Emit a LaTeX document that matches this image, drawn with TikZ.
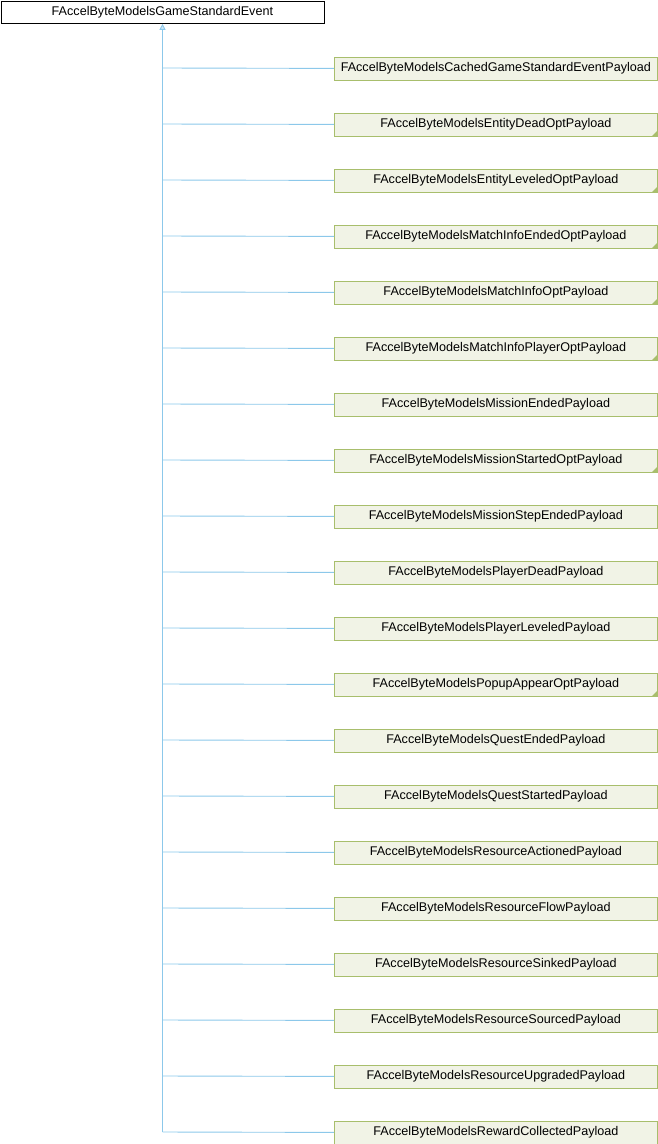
\documentclass[tikz,border=0pt]{standalone}
\usepackage{fontspec}
\setmainfont{Liberation Sans}
\usetikzlibrary{arrows.meta}
\definecolor{edgeblue}{HTML}{8CC8EA}
\definecolor{boxgreen}{HTML}{A8BE6C}
\definecolor{boxfill}{HTML}{F1F3E6}
\begin{document}
\begin{tikzpicture}[x=1pt,y=-1pt,
  basebox/.style={draw=black,fill=white,line width=0.8pt,minimum width=323pt,minimum height=22pt,inner sep=0pt,font=\fontsize{12.6}{13}\selectfont,anchor=north west},
  derivbox/.style={draw=boxgreen,fill=boxfill,line width=0.8pt,minimum width=323pt,minimum height=23pt,inner sep=0pt,font=\fontsize{12.6}{13}\selectfont,anchor=north west},
  link/.style={draw=edgeblue,line width=0.9pt},
  fold/.style={fill=boxgreen,draw=none}]
\useasboundingbox (0,0) rectangle (658,1144);
\node[basebox] (base) at (0.5,1) {FAccelByteModelsGameStandardEvent};
\coordinate (trunk) at (162.5,1132);
\foreach \i/\name/\f in {
 0/CachedGameStandardEventPayload/0,
 1/EntityDeadOptPayload/1,
 2/EntityLeveledOptPayload/1,
 3/MatchInfoEndedOptPayload/1,
 4/MatchInfoOptPayload/1,
 5/MatchInfoPlayerOptPayload/1,
 6/MissionEndedPayload/0,
 7/MissionStartedOptPayload/1,
 8/MissionStepEndedPayload/0,
 9/PlayerDeadPayload/0,
 10/PlayerLeveledPayload/0,
 11/PopupAppearOptPayload/1,
 12/QuestEndedPayload/0,
 13/QuestStartedPayload/0,
 14/ResourceActionedPayload/0,
 15/ResourceFlowPayload/0,
 16/ResourceSinkedPayload/0,
 17/ResourceSourcedPayload/0,
 18/ResourceUpgradedPayload/0,
 19/RewardCollectedPayload/0}{
  \node[derivbox] (d\i) at (334,{56.5+56*\i}) {FAccelByteModels\name};
  \ifnum\f=1
    \fill[fold] (d\i.south east) -- ++(0,-6) -- ++(-6,6) -- cycle;
  \fi
  \draw[link] (d\i.west) -- (162.5,{68+56*\i});
}
\draw[link,-{Triangle[open,length=6pt,width=6pt,fill=edgeblue!40]}] (trunk) -- (base.south -| trunk);
\end{tikzpicture}
\end{document}
